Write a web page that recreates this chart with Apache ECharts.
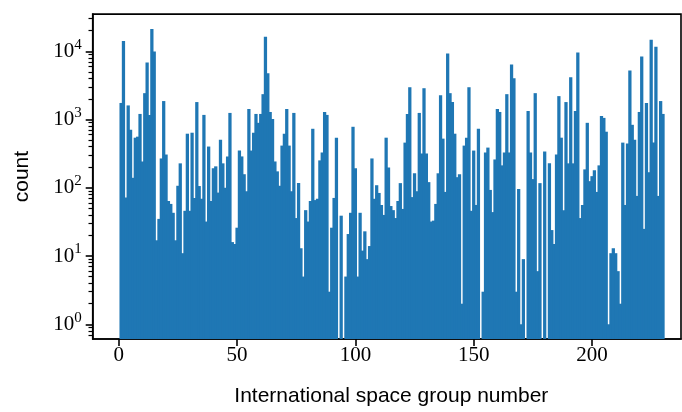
<!DOCTYPE html>
<html>
<head>
<meta charset="utf-8">
<title>space group histogram</title>
<script src="https://cdn.jsdelivr.net/npm/echarts@6/dist/echarts.min.js"></script>
<style>
    html, body { margin: 0; padding: 0; background: #ffffff; }
    #chart { width: 682px; height: 412px; }
</style>
</head>
<body>
<div id="chart"></div>
<script>
/*
* 空间群编号直方图 (对数坐标)
*/

// 国际空间群编号 1 ~ 230
const groups = Array.from({ length: 230 }, (_, i) => i + 1)

// 每个空间群的结构数量, 从图上读出 (0 表示没有柱子)
const counts = [
    1750, 14100, 72, 1610, 710, 140, 542, 561, 1208, 243,
    2435, 6850, 1169, 21300, 9890, 17, 35, 269, 1865, 307,
    64, 58, 43, 17, 107, 228, 11, 46, 620, 46,
    641, 71, 1803, 106, 69, 1169, 32, 402, 64, 193,
    206, 85, 507, 228, 100, 288, 1250, 16, 15, 26,
    351, 288, 158, 89, 1428, 351, 641, 1208, 895, 1208,
    2354, 16300, 4750, 1291, 1022, 243, 174, 107, 415, 620,
    1428, 415, 89, 1250, 36, 117, 13, 5, 47, 32,
    64, 732, 66, 69, 252, 329, 1291, 1169, 3, 26,
    71, 542, 0, 39, 0, 5, 21, 43, 783, 193,
    5, 43, 12, 23, 9, 14, 269, 69, 109, 84,
    56, 40, 542, 199, 54, 47, 36, 64, 117, 49,
    459, 1208, 2974, 73, 163, 89, 1250, 318, 2877, 318,
    121, 32, 33, 58, 163, 2277, 525, 87, 9250, 2435,
    1803, 620, 143, 158, 2, 415, 542, 2974, 46, 351,
    56, 732, 0, 3, 329, 388, 93, 44, 260, 1428,
    1291, 213, 329, 2354, 329, 6410, 4017, 3, 96, 1,
    9, 0, 1335, 329, 134, 2435, 6, 117, 0, 340,
    0, 228, 24, 15, 307, 2203, 542, 47, 1803, 228,
    4150, 228, 1335, 9570, 36, 56, 186, 895, 125, 148,
    180, 87, 213, 1130, 1057, 663, 1, 11, 13, 11,
    6, 2, 459, 56, 444, 5245, 837, 507, 76, 1291,
    8370, 25, 1745, 169, 14760, 459, 11690, 76, 1865, 1208
]

// 坐标轴刻度
const xTicks = [0, 50, 100, 150, 200]
const yTickExps = [0, 1, 2, 3, 4]

// 坐标范围 (y 为 log10)
const X_MIN = -11, X_MAX = 237.6
const Y_MIN = -0.216, Y_MAX = 4.545

const GRID_LEFT = 92.7, GRID_TOP = 14.1, GRID_W = 588.3, GRID_H = 328.5

/**
 * 次刻度 2..9 x 10^n, 在坐标范围内
 */
function minorTickValues() {
    let res = []
    for (let e = -1; e <= 4; e++) {
        for (let k = 2; k <= 9; k++) {
            let v = Math.log10(k) + e
            if (v > Y_MIN && v < Y_MAX) res.push(v - Y_MIN)
        }
    }
    return res
}

/**
 * 画出直方图
 */
function drawHistogram(id) {
    var myChart = echarts.init(document.getElementById(id))

    // 柱子从坐标底部开始, 所以 y 值平移 Y_MIN
    let barData = counts.map((c, i) => [groups[i], c > 0 ? Math.log10(c) - Y_MIN : '-'])
    let majorTicks = yTickExps.map(e => e - Y_MIN)
    // 稍微加宽, 避免相邻柱子之间出现白缝
    let barW = GRID_W / (X_MAX - X_MIN) + 0.9

    myChart.setOption({
        animation: false,
        grid: {
            left: GRID_LEFT,
            top: GRID_TOP,
            width: GRID_W,
            height: GRID_H,
            show: true,
            borderColor: '#000000',
            borderWidth: 1.6,
            containLabel: false
        },
        xAxis: {
            type: 'value',
            min: X_MIN,
            max: X_MAX,
            name: 'International space group number',
            nameLocation: 'middle',
            nameGap: 47,
            nameTextStyle: { fontFamily: 'Liberation Sans', fontSize: 21, color: '#000000', padding: [0, 0, 0, 9] },
            axisLine: { onZero: false, lineStyle: { color: '#000000', width: 1.6 } },
            axisTick: { customValues: xTicks, length: 7, lineStyle: { color: '#000000', width: 1.6 } },
            axisLabel: {
                customValues: xTicks,
                margin: 6,
                fontFamily: 'Liberation Serif',
                fontSize: 21,
                color: '#000000'
            },
            splitLine: { show: false }
        },
        yAxis: [{
            type: 'value',
            min: 0,
            max: Y_MAX - Y_MIN,
            name: 'count',
            nameLocation: 'middle',
            nameRotate: 90,
            nameGap: 60,
            nameTextStyle: { fontFamily: 'Liberation Sans', fontSize: 21, color: '#000000' },
            axisLine: { show: true, onZero: false, lineStyle: { color: '#000000', width: 1.6 } },
            axisTick: { show: true, customValues: majorTicks, length: 7, lineStyle: { color: '#000000', width: 1.6 } },
            axisLabel: {
                customValues: majorTicks,
                margin: 11,
                formatter: v => '{b|10}{s|' + Math.round(v + Y_MIN) + '}',
                rich: {
                    b: { fontFamily: 'Liberation Serif', fontSize: 21, lineHeight: 28, color: '#000000' },
                    s: { fontFamily: 'Liberation Serif', fontSize: 15, lineHeight: 12, verticalAlign: 'top', color: '#000000' }
                }
            },
            splitLine: { show: false }
        }, {
            // 次刻度
            type: 'value',
            position: 'left',
            min: 0,
            max: Y_MAX - Y_MIN,
            axisLine: { show: false, onZero: false },
            axisTick: { show: true, customValues: minorTickValues(), length: 4.2, lineStyle: { color: '#000000', width: 1.2 } },
            axisLabel: { show: false },
            splitLine: { show: false }
        }],
        series: [{
            name: 'count',
            type: 'bar',
            yAxisIndex: 0,
            barWidth: barW,
            itemStyle: { color: '#1f77b4' },
            data: barData
        }]
    })
}

drawHistogram('chart')
</script>
</body>
</html>
